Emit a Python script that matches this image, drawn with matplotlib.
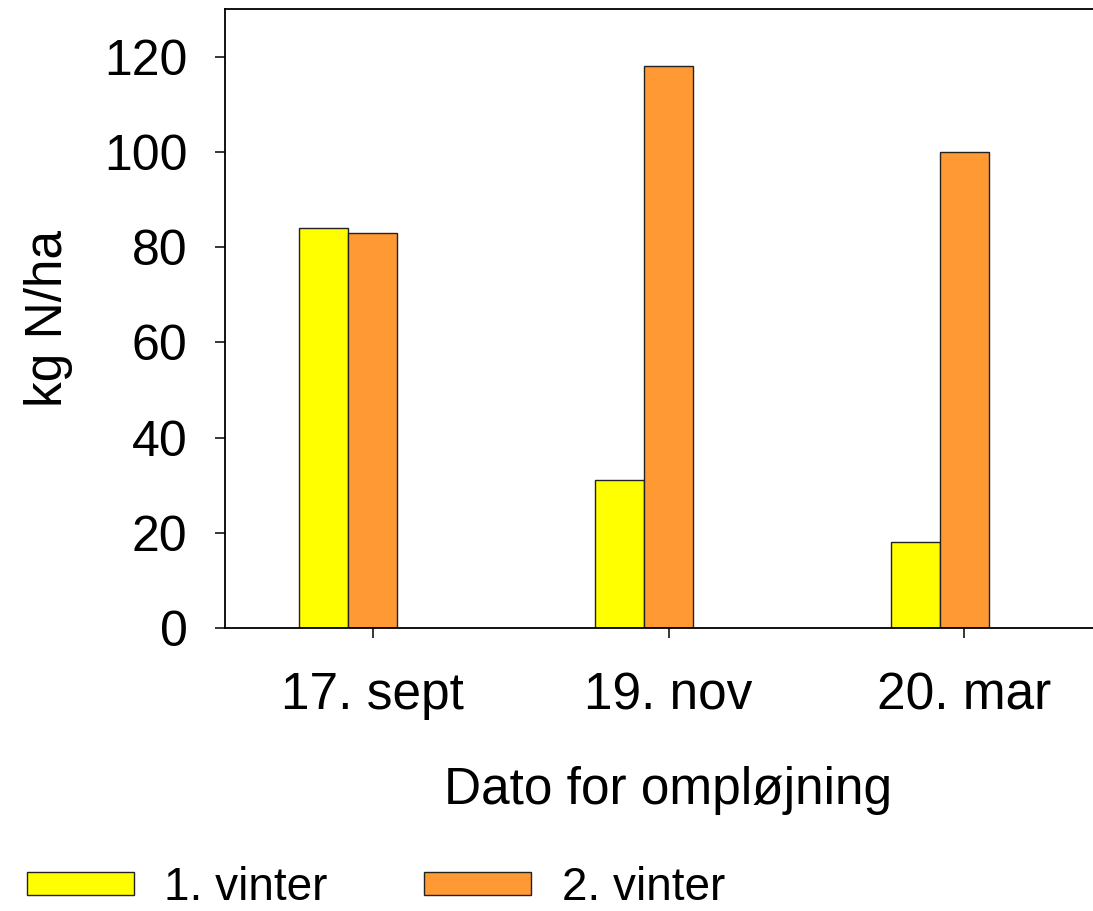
import matplotlib.pyplot as plt
import numpy as np

plt.rcParams["font.family"] = ["Liberation Sans", "DejaVu Sans"]

categories = ["17. sept", "19. nov", "20. mar"]
vinter1 = [84, 31, 18]
vinter2 = [83, 118, 100]
labels = ["1. vinter", "2. vinter"]
colors = ["#ffff00", "#ff9933"]

fig = plt.figure(figsize=(10.93, 9.11), dpi=100)
ax = fig.add_axes([225 / 1093, 283 / 911, 887 / 1093, 619 / 911])

x = np.arange(len(categories))
w = 0.166
b1 = ax.bar(x - w, vinter1, w, color=colors[0], edgecolor="#222222", linewidth=1.0, label=labels[0])
b2 = ax.bar(x, vinter2, w, color=colors[1], edgecolor="#222222", linewidth=1.0, label=labels[1])

ax.set_xlim(-0.5, 2.5)
ax.set_ylim(0, 130)
ax.set_yticks(range(0, 121, 20))
ax.set_xticks(x)
ax.set_xticklabels(categories)

ax.tick_params(axis="y", direction="out", length=7, width=1.1, labelsize=36, pad=20)
ax.tick_params(axis="x", direction="out", length=7, width=1.1, labelsize=37, pad=24)
for s in ax.spines.values():
    s.set_linewidth(1.3)

ax.set_xlabel("Dato for ompløjning", fontsize=37, labelpad=33)
ax.set_ylabel("kg N/ha", fontsize=37, labelpad=22)

fig.legend(handles=[b1, b2], labels=labels, loc="lower left",
           bbox_to_anchor=(27 / 1093, 1 / 911), ncol=2, frameon=False,
           fontsize=33, handlelength=2.34, handleheight=0.38,
           handletextpad=0.66, columnspacing=2.1, borderpad=0, borderaxespad=0)

fig.savefig("out.png", dpi=100)
